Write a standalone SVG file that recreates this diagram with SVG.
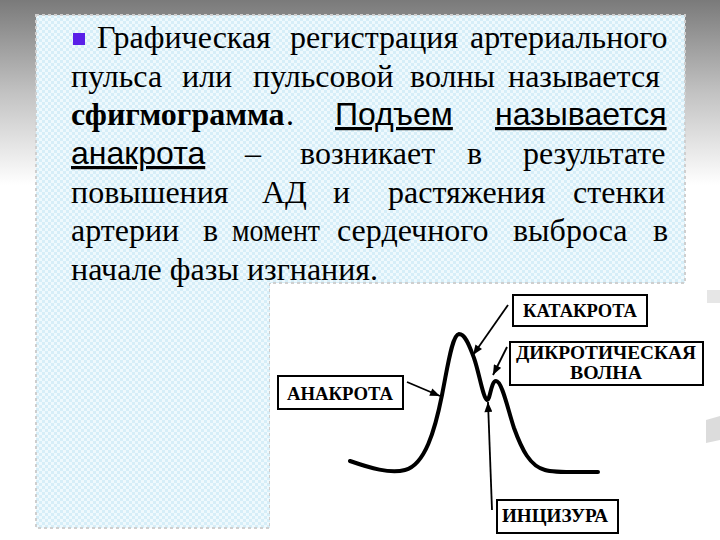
<svg xmlns="http://www.w3.org/2000/svg" width="720" height="540" viewBox="0 0 720 540">
<defs>
<linearGradient id="bg" gradientUnits="userSpaceOnUse" x1="0" y1="0" x2="0" y2="185">
<stop offset="0" stop-color="#7a7a7a"/>
<stop offset="0.5" stop-color="#c2c2c2"/>
<stop offset="1" stop-color="#ffffff"/>
</linearGradient>
<pattern id="chk" width="6" height="6" patternUnits="userSpaceOnUse">
<rect width="6" height="6" fill="#eff9fd"/>
<rect width="3" height="3" fill="#d6eef8"/>
<rect x="3" y="3" width="3" height="3" fill="#d6eef8"/>
</pattern>
<marker id="ah" viewBox="0 0 10 8" refX="10" refY="4" markerWidth="11" markerHeight="8" markerUnits="userSpaceOnUse" orient="auto">
<path d="M0,0 L10,4 L0,8 Z" fill="#000"/>
</marker>
<style>
.t{font-family:"Liberation Serif","Times New Roman",serif;font-size:32px;fill:#000}
.b{font-family:"Liberation Serif","Times New Roman",serif;font-size:32px;font-weight:bold;fill:#000}
.s{font-family:"Liberation Sans",Arial,sans-serif;font-size:32px;fill:#000;text-decoration:underline}
.lbl{font-family:"Liberation Serif","Times New Roman",serif;font-size:18px;font-weight:bold;fill:#000}
.box{fill:#fff;stroke:#000;stroke-width:2}
.arr{stroke:#000;stroke-width:1.8;fill:none;marker-end:url(#ah)}
</style>
</defs>
<rect width="720" height="540" fill="#fff"/>
<rect width="720" height="190" fill="url(#bg)"/>
<path d="M36,15 H685 V283 H270 V528 H36 Z" fill="url(#chk)" stroke="#cfcfcf" stroke-width="2" stroke-dasharray="3 3"/>
<rect x="270" y="284" width="450" height="256" fill="#fff"/>
<rect x="707" y="290" width="13" height="13" fill="#e6e6e6"/>
<path d="M706,420 L720,416 V440 L706,443 Z" fill="#dcdcdc"/>

<g id="text">
<rect x="73" y="33" width="12" height="12" fill="#5a1fe8"/>
<text class="t" x="97" y="48">Графическая</text>
<text class="t" x="290" y="48">регистрация</text>
<text class="t" x="470" y="48">артериального</text>

<text class="t" x="71" y="87">пульса</text>
<text class="t" x="182" y="87">или</text>
<text class="t" x="253" y="87">пульсовой</text>
<text class="t" x="410" y="87">волны</text>
<text class="t" x="508" y="87">называется</text>

<text class="b" x="71" y="125">сфигмограмма</text>
<text class="t" x="286" y="125">.</text>
<text class="s" x="335" y="125">Подъем </text>
<text class="s" x="495" y="125">называется</text>

<text class="s" x="71" y="164">анакрота</text>
<text class="t" x="245" y="164">–</text>
<text class="t" x="300" y="164">возникает</text>
<text class="t" x="467" y="164">в</text>
<text class="t" x="523" y="164">результате</text>

<text class="t" x="71" y="203">повышения</text>
<text class="t" x="262" y="203">АД</text>
<text class="t" x="333" y="203">и</text>
<text class="t" x="388" y="203">растяжения</text>
<text class="t" x="573" y="203">стенки</text>

<text class="t" x="71" y="241">артерии</text>
<text class="t" x="203" y="241">в</text>
<text class="t" x="232" y="241" textLength="88" lengthAdjust="spacingAndGlyphs">момент</text>
<text class="t" x="337" y="241">сердечного</text>
<text class="t" x="513" y="241">выброса</text>
<text class="t" x="653" y="241">в</text>

<text class="t" x="71" y="280">начале фазы изгнания.</text>
</g>

<g id="curve">
<path d="M350,461 C370,468 390,474 405,470 C425,465 435,430 442,395 C448,365 452,335 459,334 C466,334 470,348 474,358 C479,372 483,398 487,400 C490,401 491,381 496,381 C502,381 508,410 514,428 C522,450 530,466 545,470 C555,473 575,472 598,472" fill="none" stroke="#000" stroke-width="4" stroke-linecap="round"/>
</g>

<g id="connectors">
<line class="arr" x1="508" y1="305" x2="473" y2="355"/>
<line class="arr" x1="507" y1="347" x2="493" y2="375"/>
<line class="arr" x1="407" y1="382" x2="440" y2="396"/>
<line class="arr" x1="492" y1="510" x2="488" y2="402"/>
</g>

<g id="katakrota">
<rect class="box" x="513" y="295" width="134" height="31"/>
<text class="lbl" x="580" y="317" text-anchor="middle" textLength="114" lengthAdjust="spacingAndGlyphs">КАТАКРОТА</text>
</g>
<g id="dikrot">
<rect class="box" x="510" y="342" width="193" height="43"/>
<text class="lbl" x="606" y="359" text-anchor="middle" font-size="17" textLength="180" lengthAdjust="spacingAndGlyphs">ДИКРОТИЧЕСКАЯ</text>
<text class="lbl" x="606" y="379" text-anchor="middle" font-size="17" textLength="72" lengthAdjust="spacingAndGlyphs">ВОЛНА</text>
</g>
<g id="anakrota">
<rect class="box" x="278" y="376" width="125" height="33"/>
<text class="lbl" x="340" y="400" text-anchor="middle" textLength="106" lengthAdjust="spacingAndGlyphs">АНАКРОТА</text>
</g>
<g id="incizura">
<rect class="box" x="497" y="500" width="121" height="33"/>
<text class="lbl" x="555" y="522" text-anchor="middle" textLength="106" lengthAdjust="spacingAndGlyphs">ИНЦИЗУРА</text>
</g>
</svg>
